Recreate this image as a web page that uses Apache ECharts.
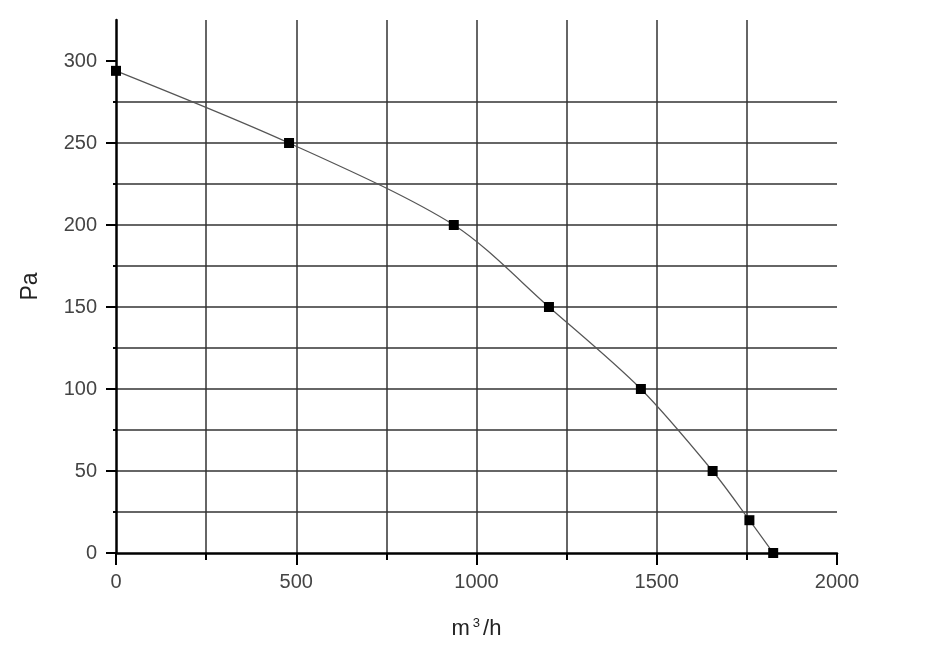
<!DOCTYPE html>
<html>
<head>
<meta charset="utf-8">
<script src="https://cdn.jsdelivr.net/npm/echarts@6/dist/echarts.min.js"></script>
<style>
html,body{margin:0;padding:0;background:#fff;}
#chart{width:941px;height:645px;}
</style>
</head>
<body>
<div id="chart"></div>
<script>
// Data
const flowValues = [0, 480, 937, 1201, 1456, 1655, 1757, 1823];   // m³/h
const pressureValues = [294, 250, 200, 150, 100, 50, 20, 0];     // Pa
const yTickLabels = [0, 50, 100, 150, 200, 250, 300];
const xTickLabels = [0, 500, 1000, 1500, 2000];
const yMinorTicks = [0, 25, 50, 75, 100, 125, 150, 175, 200, 225, 250, 275, 300];
const xMinorTicks = [0, 250, 500, 750, 1000, 1250, 1500, 1750, 2000];
const yName = 'Pa';

const points = flowValues.map((x, i) => [x, pressureValues[i]]);

const FONT = 'Liberation Sans, Arial, sans-serif';
const labelStyle = {color: '#444', fontSize: 20, fontFamily: FONT, formatter: v => String(v)};
const gridLine = {color: '#333', width: 1.5};
const axisLineStyle = {color: '#000', width: 2.5};

const chart = echarts.init(document.getElementById('chart'), null, {renderer: 'canvas'});
chart.setOption({
  animation: false,
  backgroundColor: '#fff',
  grid: {left: 116, right: 104, top: 20, bottom: 92, containLabel: false},
  xAxis: [{
    type: 'value', min: 0, max: 2000, interval: 250, position: 'bottom',
    axisLine: {show: true, lineStyle: axisLineStyle},
    axisTick: {show: true, length: 7, customValues: xMinorTicks, lineStyle: {color: '#000', width: 2}},
    axisLabel: {show: false},
    splitLine: {show: true, showMinLine: false, showMaxLine: false, lineStyle: gridLine},
    name: '{b|m}{s|3}{b|/h}', nameLocation: 'middle', nameGap: 64,
    nameTextStyle: {
      color: '#222', fontFamily: FONT,
      rich: {
        b: {fontSize: 22, fontFamily: FONT, color: '#222', verticalAlign: 'bottom'},
        s: {fontSize: 13, fontFamily: FONT, color: '#222', verticalAlign: 'top', padding: [0, 3, 10, 3]}
      }
    }
  }, {
    type: 'value', min: 0, max: 2000, interval: 500, position: 'bottom',
    axisLine: {show: false},
    axisTick: {show: true, length: 12, customValues: xTickLabels, lineStyle: {color: '#000', width: 2}},
    axisLabel: Object.assign({show: true, margin: 19, customValues: xTickLabels}, labelStyle),
    splitLine: {show: false}
  }],
  yAxis: [{
    type: 'value', min: 0, max: 325, interval: 25, position: 'left',
    axisLine: {show: true, onZero: false, lineStyle: axisLineStyle},
    axisTick: {show: true, length: 3, customValues: yMinorTicks, lineStyle: {color: '#000', width: 2}},
    axisLabel: {show: false},
    splitLine: {show: true, showMinLine: false, showMaxLine: false, lineStyle: gridLine},
    name: yName, nameLocation: 'middle', nameGap: 74, nameRotate: 90,
    nameTextStyle: {color: '#222', fontSize: 23, fontFamily: FONT}
  }, {
    type: 'value', min: 0, max: 325, interval: 50, position: 'left',
    axisLine: {show: false},
    axisTick: {show: true, length: 10, customValues: yTickLabels, lineStyle: {color: '#000', width: 2}},
    axisLabel: Object.assign({show: true, margin: 19, customValues: yTickLabels}, labelStyle),
    splitLine: {show: false}
  }],
  series: [{
    type: 'line',
    xAxisIndex: 0, yAxisIndex: 0,
    data: points,
    smooth: 0.3,
    symbol: 'rect', symbolSize: 10,
    itemStyle: {color: '#000'},
    lineStyle: {color: '#555', width: 1.2},
    clip: false,
    z: 5
  }]
});
</script>
</body>
</html>
